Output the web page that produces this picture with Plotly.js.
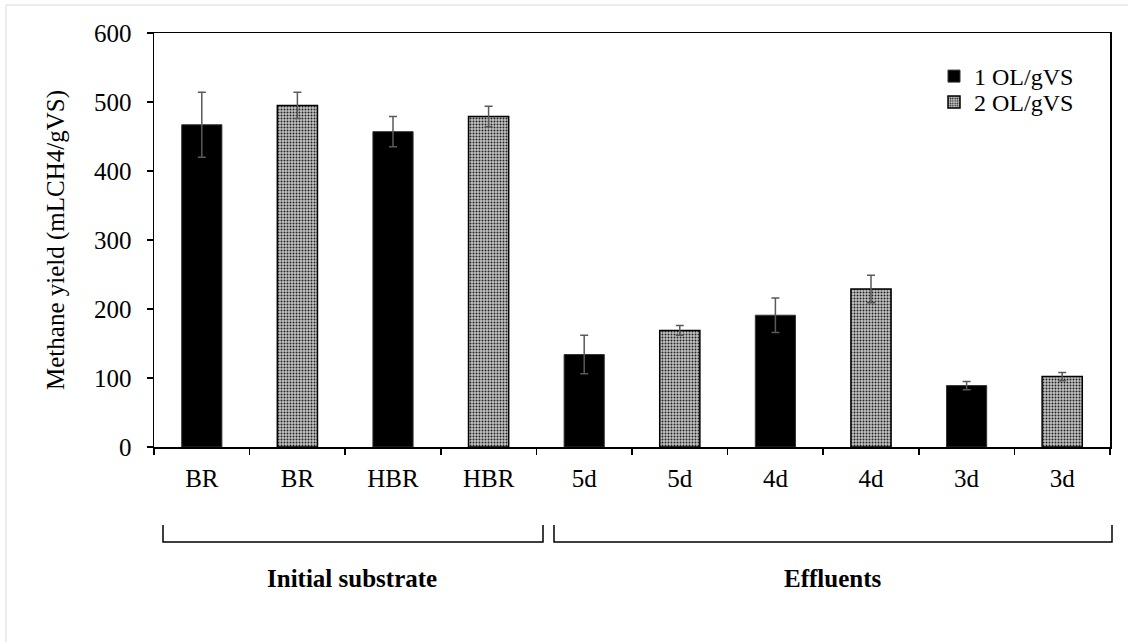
<!DOCTYPE html>
<html>
<head>
<meta charset="utf-8">
<script src="https://cdn.plot.ly/plotly-3.0.1.min.js"></script>
<style>html,body{margin:0;padding:0;background:#fff;}#chart{width:1128px;height:642px;}</style>
</head>
<body>
<div id="chart"></div>
<script>
// Category tick labels (one per bar position)
const categories = ["BR", "BR", "HBR", "HBR", "5d", "5d", "4d", "4d", "3d", "3d"];
// Series names
const seriesNames = ["1 OL/gVS", "2 OL/gVS"];
// Positions (category index) for each series
const series1Idx = [0, 2, 4, 6, 8];
const series2Idx = [1, 3, 5, 7, 9];
// Methane yield values (mLCH4/gVS)
const series1Values = [467, 457, 134, 191, 89];
const series2Values = [495, 479, 169, 229, 102];
// Error (± standard deviation)
const series1Err = [47, 22, 28, 25, 6];
const series2Err = [19, 15, 7, 20, 6];
// Group labels
const groupLabels = ["Initial substrate", "Effluents"];

const FONT = "Liberation Serif, Times New Roman, serif";
const FS = 25;

const errStyle = {type: 'data', visible: true, color: '#5a5a5a', thickness: 1.5, width: 4};

const traces = [
  {
    type: 'bar', name: seriesNames[0], x: series1Idx, y: series1Values,
    width: 0.42, legend: 'legend',
    marker: {color: '#000000', line: {color: '#333333', width: 1}},
    error_y: Object.assign({array: series1Err}, errStyle)
  },
  {
    type: 'bar', name: seriesNames[1], x: series2Idx, y: series2Values,
    width: 0.42, legend: 'legend2',
    marker: {color: '#bdbdbd', line: {color: '#000000', width: 1.5},
             pattern: {shape: '.', size: 3, solidity: 0.35, fgcolor: '#222222', bgcolor: '#c4c4c4', fillmode: 'replace'}},
    error_y: Object.assign({array: series2Err}, errStyle)
  }
];

// helpers: pixel -> paper
const L = 154, R = 1110, T = 33, B = 447;
const px = v => (v - L) / (R - L);
const py = v => (B - v) / (B - T);

function bracket(x0, x1, yTop, yBot) {
  const a = px(x0), b = px(x1), t = py(yTop), u = py(yBot);
  return {type: 'path', xref: 'paper', yref: 'paper',
          path: `M ${a} ${t} L ${a} ${u} L ${b} ${u} L ${b} ${t}`,
          line: {color: '#000', width: 1.5}};
}

const legendBase = {xanchor: 'left', yanchor: 'top', bgcolor: 'rgba(0,0,0,0)',
                    font: {family: FONT, size: 24, color: '#000'}, itemwidth: 30};

const layout = {
  width: 1128, height: 642,
  margin: {l: L, r: 1128 - R, t: T, b: 642 - B, autoexpand: false},
  paper_bgcolor: '#ffffff', plot_bgcolor: '#ffffff',
  font: {family: FONT, size: FS, color: '#000'},
  barmode: 'overlay',
  showlegend: true,
  legend: Object.assign({x: px(934), y: py(54)}, legendBase),
  legend2: Object.assign({x: px(934), y: py(80)}, legendBase),
  xaxis: {
    range: [-0.5, 9.5], tickmode: 'array', tickvals: categories.map((c, i) => i), ticktext: categories,
    ticks: '', showline: true, linecolor: '#000', linewidth: 1.5, mirror: true,
    showgrid: false, zeroline: false, ticklabelstandoff: 8,
    tickfont: {family: FONT, size: FS, color: '#000'},
    minor: {tick0: -0.5, dtick: 1, ticks: 'outside', ticklen: 6, tickcolor: '#000', tickwidth: 1.5, showgrid: false}
  },
  yaxis: {
    range: [0, 600], dtick: 100, ticks: 'outside', ticklen: 6, tickcolor: '#000', tickwidth: 1.5,
    showline: true, linecolor: '#000', linewidth: 1.5, mirror: true,
    showgrid: false, zeroline: false, ticklabelstandoff: 10,
    tickfont: {family: FONT, size: FS, color: '#000'},
    title: {text: 'Methane yield (mLCH4/gVS)', font: {family: FONT, size: FS, color: '#000'}, standoff: 22}
  },
  shapes: [
    {type: 'rect', xref: 'paper', yref: 'paper', x0: px(6), x1: px(1140), y0: py(5), y1: py(660),
     line: {color: '#d9d9d9', width: 1}, fillcolor: 'rgba(0,0,0,0)', layer: 'below'},
    bracket(163, 543, 525, 542),
    bracket(554, 1112, 525, 542)
  ],
  annotations: [
    {xref: 'paper', yref: 'paper', x: px(352), y: py(578), xanchor: 'center', yanchor: 'middle',
     text: '<b>' + groupLabels[0] + '</b>', showarrow: false,
     font: {family: FONT, size: FS, color: '#000'}},
    {xref: 'paper', yref: 'paper', x: px(833), y: py(578), xanchor: 'center', yanchor: 'middle',
     text: '<b>' + groupLabels[1] + '</b>', showarrow: false,
     font: {family: FONT, size: FS, color: '#000'}}
  ]
};

Plotly.newPlot('chart', traces, layout, {displayModeBar: false, staticPlot: true});
</script>
</body>
</html>
